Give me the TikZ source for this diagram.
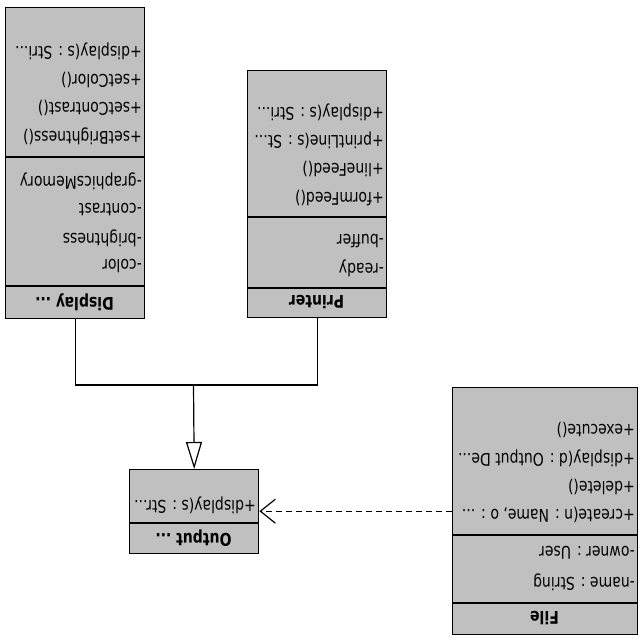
\documentclass[tikz,border=0pt]{standalone}
\usepackage{fontspec}
\newfontfamily\umlfont[FakeStretch=0.8]{DejaVu Sans}
\usetikzlibrary{arrows.meta}
\definecolor{umlgray}{RGB}{192,192,192}

\begin{document}
\begin{tikzpicture}[x=1pt,y=-1pt,classbox/.style={draw,line width=1.4pt,fill=umlgray,inner sep=0pt,anchor=north west},member/.style={rotate=180,anchor=west,inner sep=0pt,font=\umlfont\fontsize{17.5}{20}\selectfont},title/.style={rotate=180,inner sep=0pt,font=\umlfont\bfseries\fontsize{17.5}{20}\selectfont},link/.style={line width=1.2pt}]
\useasboundingbox (0,0) rectangle (640,640);
\node[classbox,minimum width=139pt,minimum height=311pt] (display) at (5,7) {};
\node[classbox,minimum width=139pt,minimum height=247pt] (printer) at (247,70) {};
\node[classbox,minimum width=129pt,minimum height=84pt] (output) at (129,469) {};
\node[classbox,minimum width=185pt,minimum height=247pt] (file) at (452,387) {};
\draw[link] (display.west |- 0,157) -- (display.east |- 0,157);
\draw[link] (display.west |- 0,286) -- (display.east |- 0,286);
\draw[link] (printer.west |- 0,217) -- (printer.east |- 0,217);
\draw[link] (printer.west |- 0,288) -- (printer.east |- 0,288);
\draw[link] (output.west |- 0,523) -- (output.east |- 0,523);
\draw[link] (file.west |- 0,535) -- (file.east |- 0,535);
\draw[link] (file.west |- 0,603) -- (file.east |- 0,603);
\node[member] (d1) at (142,51) {+display(s : Stri...};
\node[member] (d2) at (142,79.5) {+setColor()};
\node[member] (d3) at (142,108) {+setContrast()};
\node[member] (d4) at (142,136.5) {+setBrightness()};
\node[member] (d5) at (142,181) {-graphicsMemory};
\node[member] (d6) at (142,209.5) {-contrast};
\node[member] (d7) at (142,238) {-brightness};
\node[member] (d8) at (142,266.5) {-color};
\node[title] (dt) at (74.5,302) {Display ...};
\node[member] (p1) at (384,112) {+display(s : Stri...};
\node[member] (p2) at (384,140.5) {+printLine(s : St...};
\node[member] (p3) at (384,169) {+lineFeed()};
\node[member] (p4) at (384,197.5) {+formFeed()};
\node[member] (p5) at (384,241) {-buffer};
\node[member] (p6) at (384,268) {-ready};
\node[title] (pt) at (316.5,302.5) {Printer};
\node[member] (o1) at (256,505) {+display(s : Str...};
\node[title] (ot) at (193.5,538) {Output ...};
\node[member] (f1) at (635,430) {+execute()};
\node[member] (f2) at (635,458.5) {+display(d : Output De...};
\node[member] (f3) at (635,487) {+delete()};
\node[member] (f4) at (635,515) {+create(n : Name, o : ...};
\node[member] (f5) at (635,553) {-owner : User};
\node[member] (f6) at (635,582) {-name : String};
\node[title] (ft) at (544.5,618.5) {File};
\coordinate (junction) at (193.5,385);
\draw[link] (display.south) |- (junction) -| (printer.south);
\draw[link,-{Triangle[open,length=27pt,width=16pt]}] (junction) -- (output.north);
\draw[link,dash pattern=on 6pt off 4pt,-{Straight Barb[length=15pt,width=24pt]}] (file.west) -- (file.west -| output.east);
\end{tikzpicture}
\end{document}
